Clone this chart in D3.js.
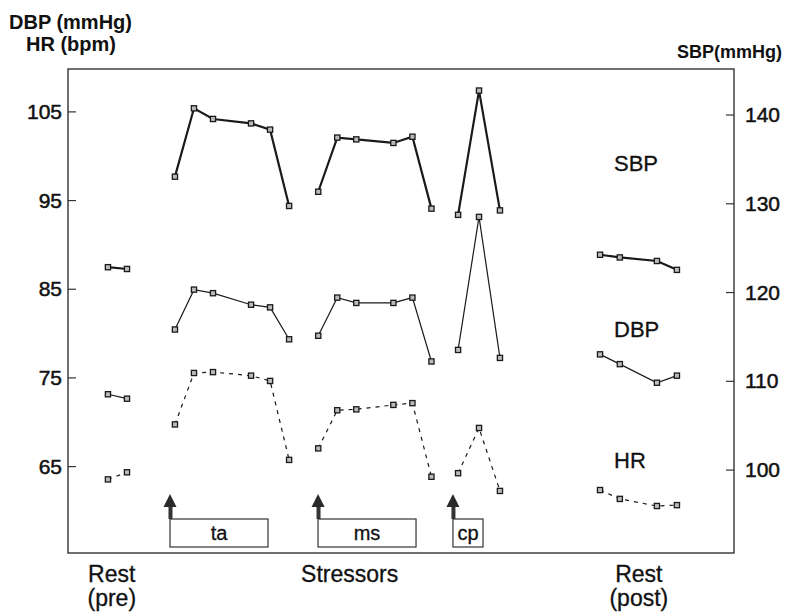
<!DOCTYPE html>
<html>
<head>
<meta charset="utf-8">
<script src="https://cdn.jsdelivr.net/npm/d3@7"></script>
<style>
  html, body { margin: 0; padding: 0; background: #fff; }
  svg text { font-family: "Liberation Sans", Arial, Helvetica, sans-serif; fill: #111; }
</style>
</head>
<body>
<svg id="chart" width="797" height="613"></svg>
<script>
// ---------------- data ----------------
const phases = ["pre", "ta", "ms", "cp", "post"];
const xPre  = [2.1, 3.1];
const xTa   = [5.62, 6.62, 7.62, 9.62, 10.62, 11.62];
const xMs   = [13.15, 14.15, 15.15, 17.1, 18.1, 19.1];
const xCp   = [20.5, 21.6, 22.7];
const xPost = [27.96, 29.0, 30.95, 32.0];

// SBP (right axis, mmHg)
const sbpPre  = [122.8, 122.6];
const sbpTa   = [133.0, 140.7, 139.5, 139.0, 138.3, 129.7];
const sbpMs   = [131.3, 137.4, 137.2, 136.8, 137.5, 129.4];
const sbpCp   = [128.7, 142.7, 129.2];
const sbpPost = [124.2, 123.9, 123.5, 122.5];

// DBP (left axis, mmHg)
const dbpPre  = [73.1, 72.6];
const dbpTa   = [80.4, 84.9, 84.5, 83.2, 82.9, 79.3];
const dbpMs   = [79.7, 84.0, 83.4, 83.4, 84.0, 76.8];
const dbpCp   = [78.1, 93.1, 77.2];
const dbpPost = [77.6, 76.5, 74.4, 75.2];

// HR (left axis, bpm)
const hrPre  = [63.5, 64.3];
const hrTa   = [69.7, 75.5, 75.6, 75.2, 74.6, 65.7];
const hrMs   = [67.0, 71.3, 71.4, 71.9, 72.1, 63.8];
const hrCp   = [64.2, 69.3, 62.2];
const hrPost = [62.3, 61.3, 60.5, 60.6];

const leftTicks  = [65, 75, 85, 95, 105];
const rightTicks = [100, 110, 120, 130, 140];

const stressors     = ["ta", "ms", "cp"];
const stressorStart = [5.36, 13.14, 20.23];
const stressorEnd   = [10.51, 18.29, 21.81];

const seriesNames = ["SBP", "DBP", "HR"];
const seriesLabelY = [98.3, 79.6, 64.8]; // label baseline values (left-axis units)

const bottomLabels = [["Rest", "(pre)"], ["Stressors"], ["Rest", "(post)"]];
const bottomLabelX = [2.3, 14.8, 30.0];

// ---------------- layout ----------------
const svg = d3.select("#chart");
const L = 68, R = 734, T = 69, B = 553;

const x  = d3.scaleLinear().domain([0, 35]).range([L, R]);
const yL = d3.scaleLinear().domain([55.2, 109.78]).range([B, T]);
const yR = d3.scaleLinear().domain([90.6, 145.13]).range([B, T]);

const ink = "#1a1a1a";

// frame
svg.append("rect")
  .attr("x", L).attr("y", T).attr("width", R - L).attr("height", B - T)
  .attr("fill", "none").attr("stroke", "#333").attr("stroke-width", 1.4);

// left axis (ticks inward)
const gL = svg.append("g").attr("transform", `translate(${L},0)`)
  .call(d3.axisRight(yL).tickValues(leftTicks).tickSize(8).tickFormat(""));
gL.select(".domain").remove();
gL.selectAll(".tick line").attr("stroke", "#333").attr("stroke-width", 1.2);
svg.append("g").selectAll("text").data(leftTicks).join("text")
  .attr("x", 62).attr("y", d => yL(d)).attr("dy", "0.36em")
  .attr("text-anchor", "end").attr("font-size", 21)
  .attr("stroke", "#111").attr("stroke-width", 0.5).text(d => d);

// right axis (ticks inward)
const gR = svg.append("g").attr("transform", `translate(${R},0)`)
  .call(d3.axisLeft(yR).tickValues(rightTicks).tickSize(8).tickFormat(""));
gR.select(".domain").remove();
gR.selectAll(".tick line").attr("stroke", "#333").attr("stroke-width", 1.2);
svg.append("g").selectAll("text").data(rightTicks).join("text")
  .attr("x", 745).attr("y", d => yR(d)).attr("dy", "0.36em")
  .attr("text-anchor", "start").attr("font-size", 21)
  .attr("stroke", "#111").attr("stroke-width", 0.5).text(d => d);

// axis titles
svg.append("text").attr("x", 9).attr("y", 29).attr("font-size", 20).attr("font-weight", 600).text("DBP (mmHg)");
svg.append("text").attr("x", 26).attr("y", 51).attr("font-size", 20).attr("font-weight", 600).text("HR (bpm)");
svg.append("text").attr("x", 677).attr("y", 58).attr("font-size", 18).attr("font-weight", 600).text("SBP(mmHg)");

// series
const xs = [xPre, xTa, xMs, xCp, xPost];
const sbp = [sbpPre, sbpTa, sbpMs, sbpCp, sbpPost];
const dbp = [dbpPre, dbpTa, dbpMs, dbpCp, dbpPost];
const hr  = [hrPre, hrTa, hrMs, hrCp, hrPost];

function drawSeries(vals, yScale, width, dash) {
  const line = d3.line().x(d => x(d[0])).y(d => yScale(d[1]));
  vals.forEach((v, i) => {
    const pts = v.map((val, j) => [xs[i][j], val]);
    svg.append("path").datum(pts).attr("d", line)
      .attr("fill", "none").attr("stroke", ink).attr("stroke-width", width)
      .attr("stroke-dasharray", dash || null);
    svg.append("g").selectAll("rect").data(pts).join("rect")
      .attr("x", d => x(d[0]) - 2.6).attr("y", d => yScale(d[1]) - 2.6)
      .attr("width", 5.2).attr("height", 5.2)
      .attr("fill", "#bbb").attr("stroke", ink).attr("stroke-width", 1.3);
  });
}
drawSeries(sbp, yR, 2.2, null);
drawSeries(dbp, yL, 1.2, null);
drawSeries(hr, yL, 1.2, "4,5");

// series labels
svg.append("g").selectAll("text").data(seriesNames).join("text")
  .attr("x", 614).attr("y", (d, i) => yL(seriesLabelY[i]))
  .attr("font-size", 22).attr("stroke", "#111").attr("stroke-width", 0.3).text(d => d);

// stressor boxes + arrows
const boxTop = 519, boxBot = 547;
stressors.forEach((s, i) => {
  const x0 = x(stressorStart[i]), x1 = x(stressorEnd[i]);
  svg.append("rect").attr("x", x0).attr("y", boxTop).attr("width", x1 - x0).attr("height", boxBot - boxTop)
    .attr("fill", "#fff").attr("stroke", "#333").attr("stroke-width", 1.2);
  svg.append("text").attr("x", (x0 + x1) / 2).attr("y", boxTop + 21)
    .attr("text-anchor", "middle").attr("font-size", 20)
    .attr("stroke", "#111").attr("stroke-width", 0.3).text(s);
  // arrow
  svg.append("rect").attr("x", x0 - 1.5).attr("y", 505).attr("width", 4).attr("height", boxTop - 505)
    .attr("fill", "#333");
  svg.append("path")
    .attr("d", `M${x0},494 L${x0 + 6.5},507 L${x0 - 6.5},507 Z`)
    .attr("fill", "#2a2a2a");
});

// bottom labels
bottomLabels.forEach((lines, i) => {
  const t = svg.append("text").attr("x", x(bottomLabelX[i])).attr("y", 582)
    .attr("text-anchor", "middle").attr("font-size", 23)
    .attr("stroke", "#111").attr("stroke-width", 0.3);
  lines.forEach((ln, k) => {
    t.append("tspan").attr("x", x(bottomLabelX[i])).attr("dy", k === 0 ? 0 : 24).text(ln);
  });
});
</script>
</body>
</html>
